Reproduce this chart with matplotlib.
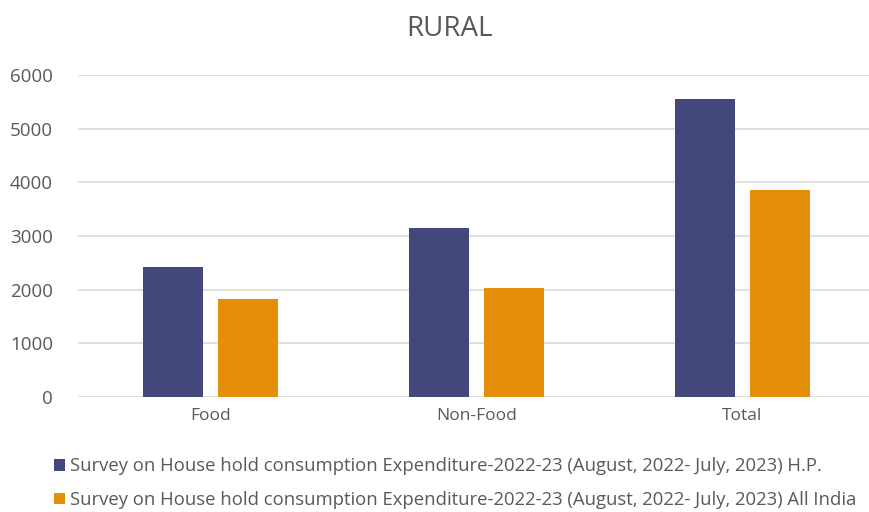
import matplotlib
matplotlib.use("Agg")
import matplotlib.pyplot as plt
import numpy as np

categories = ["Food", "Non-Food", "Total"]
hp_values = [2414, 3147, 5561]
india_values = [1822, 2022, 3850]
series_names = [
    "Survey on House hold consumption Expenditure-2022-23 (August, 2022- July, 2023) H.P.",
    "Survey on House hold consumption Expenditure-2022-23 (August, 2022- July, 2023) All India",
]
yticks = [0, 1000, 2000, 3000, 4000, 5000, 6000]

plt.rcParams["font.family"] = ["Open Sans", "DejaVu Sans"]
text_col = "#595959"

fig = plt.figure(figsize=(8.7, 5.12), dpi=100)
ax = fig.add_axes([78 / 870, 1 - 397 / 512, 797 / 870, 322 / 512])

x = np.arange(len(categories))
w = 0.226
ax.bar(x - 0.141, hp_values, w, color="#43477B", label=series_names[0], zorder=3)
ax.bar(x + 0.141, india_values, w, color="#E48E09", label=series_names[1], zorder=3)

ax.set_xlim(-0.5, 2.5)
ax.set_ylim(0, 6000)
ax.set_yticks(yticks)
ax.set_xticks(x)
ax.set_xticklabels(categories)
ax.grid(axis="y", color="#D9D9D9", linewidth=1.2, zorder=0)
for s in ax.spines.values():
    s.set_visible(False)
ax.tick_params(axis="x", length=0, labelsize=12.5, colors=text_col, pad=8)
ax.tick_params(axis="y", length=0, labelsize=13.5, colors=text_col, pad=18)

fig.text(450 / 870, 1 - 29 / 512, "RURAL", ha="center", va="center",
         fontsize=20, color=text_col)

fig.legend(loc="upper left", bbox_to_anchor=(47 / 870, 1 - 450 / 512),
           frameon=False, fontsize=13.3, labelcolor=text_col,
           handlelength=0.6, handleheight=0.6, handletextpad=0.25,
           labelspacing=0.85, borderaxespad=0)

fig.savefig("out.png", dpi=100)
